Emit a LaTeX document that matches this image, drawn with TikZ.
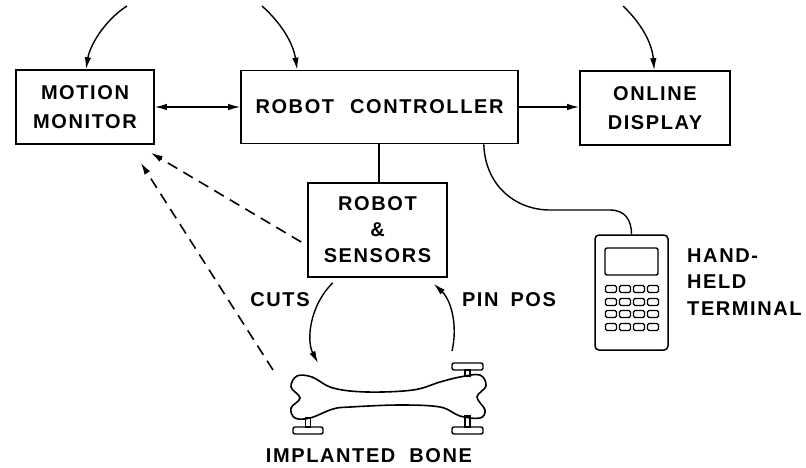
\documentclass[tikz,border=0pt]{standalone}
\usepackage{fontspec}
\setmainfont{Liberation Sans}[LetterSpace=8]
\usetikzlibrary{arrows.meta,calc}
\tikzset{
  box/.style={draw, line width=1.6pt, align=center, inner sep=0pt, font=\fontsize{20}{29}\selectfont\bfseries},
  lbl/.style={align=center, inner sep=0pt, font=\fontsize{20}{26.5}\selectfont\bfseries},
  conn/.style={line width=1.4pt},
  arr/.style={conn, -{Latex[length=12pt,width=6.5pt]}},
  darr/.style={conn, {Latex[length=12pt,width=6.5pt]}-{Latex[length=12pt,width=6.5pt]}},
  dasharr/.style={arr, line width=1.6pt, dash pattern=on 11pt off 7pt},
  part/.style={line width=1.4pt, rounded corners=2pt}
}
\begin{document}
\begin{tikzpicture}[x=1pt,y=-1pt]
\useasboundingbox (0,0) rectangle (806,467);
% boxes
\node[box, minimum width=138pt, minimum height=74pt] (mm) at (85,107) {MOTION\\MONITOR};
\node[box, minimum width=277pt, minimum height=73pt] (rc) at (379.5,107) {ROBOT\hspace{16pt}CONTROLLER};
\node[box, minimum width=150pt, minimum height=74pt] (od) at (655,108) {ONLINE\\DISPLAY};
\node[box, minimum width=139pt, minimum height=94pt, font=\fontsize{20}{26}\selectfont\bfseries] (rs) at (377.5,230) {ROBOT\\\&\\SENSORS};
% top incoming arrows
\coordinate (t1) at (127,6);
\coordinate (t2) at (262,6);
\coordinate (t3) at (623,6);
\draw[arr] (t1) .. controls (105,20) and (90,45) .. ([xshift=1pt]mm.north);
\draw[arr] (t2) .. controls (280,22) and (293,42) .. ([xshift=57pt]rc.north west);
\draw[arr] (t3) .. controls (640,22) and (652,42) .. ([xshift=75pt]od.north west);
% horizontal links
\draw[darr] (mm.east) -- (mm.east -| rc.west);
\draw[arr] (rc.east) -- (rc.east -| od.west);
\draw[conn] ([xshift=1.5pt]rc.south -| rs.north) -- ([xshift=1.5pt]rs.north);
% terminal
\node[draw, line width=1.5pt, rounded corners=4pt, minimum width=73pt, minimum height=115pt, inner sep=0pt] (term) at (631.5,292.5) {};
\draw[part] (605,248) rectangle (658,275);
\foreach \yy in {289,302,314,327}{
  \foreach \xx in {611,625,639,653}{
    \draw[line width=1.2pt, rounded corners=1.5pt] (\xx-5.5,\yy-3.5) rectangle (\xx+5.5,\yy+3.5);
  }
}
\node[lbl, align=left, anchor=west] (termlbl) at (687,282) {HAND-\\HELD\\TERMINAL};
% cable
\draw[conn] ([xshift=-35pt]rc.south east) .. controls (485,185) and (515,210) .. (550,210) -- (610,210) .. controls (625,210) and (631.5,220) .. (term.north);
% bone
\draw[line width=1.6pt] plot[smooth cycle, tension=0.6] coordinates {
 (297,376) (312,377) (333,388) (367,392) (413,390) (440,382) (460,377) (480,375)
 (486,386) (477,397) (485,410) (480,418) (460,416) (440,407) (400,405) (350,407)
 (333,409) (310,418) (295,418) (291,408) (300,398) (291,387)};
% pins
\draw[part] (293,427) rectangle (323,434);
\draw[line width=1.2pt] (305.5,418) rectangle (310.5,427);
\draw[part] (452,427) rectangle (483,434);
\draw[line width=1.2pt] (465,416) rectangle (470,427);
\draw[part] (452,363) rectangle (483,370);
\draw[line width=1.2pt] (465,370) rectangle (470,376);
\node[lbl] (bonelbl) at (369,456) {IMPLANTED\hspace{14pt}BONE};
% cuts / pin pos
\coordinate (cutend) at (318,363);
\coordinate (pinstart) at (452,351);
\coordinate (dstart) at (273,370);
\draw[arr] ([xshift=-115pt,yshift=-5pt]rs.south east) .. controls (310,305) and (306,340) .. (cutend);
\draw[arr] (pinstart) .. controls (458,325) and (451,300) .. ([xshift=-14pt,yshift=-6pt]rs.south east);
\node[lbl] (cuts) at (280,300) {CUTS};
\node[lbl] (pinpos) at (509,300) {PIN\hspace{12pt}POS};
% dashed sensing lines
\draw[dasharr] ([shift={(-6pt,-12pt)}]rs.west) -- ([shift={(-4pt,-8pt)}]mm.south east);
\draw[dasharr] (dstart) -- ([shift={(-14pt,-18pt)}]mm.south east);
\end{tikzpicture}
\end{document}
